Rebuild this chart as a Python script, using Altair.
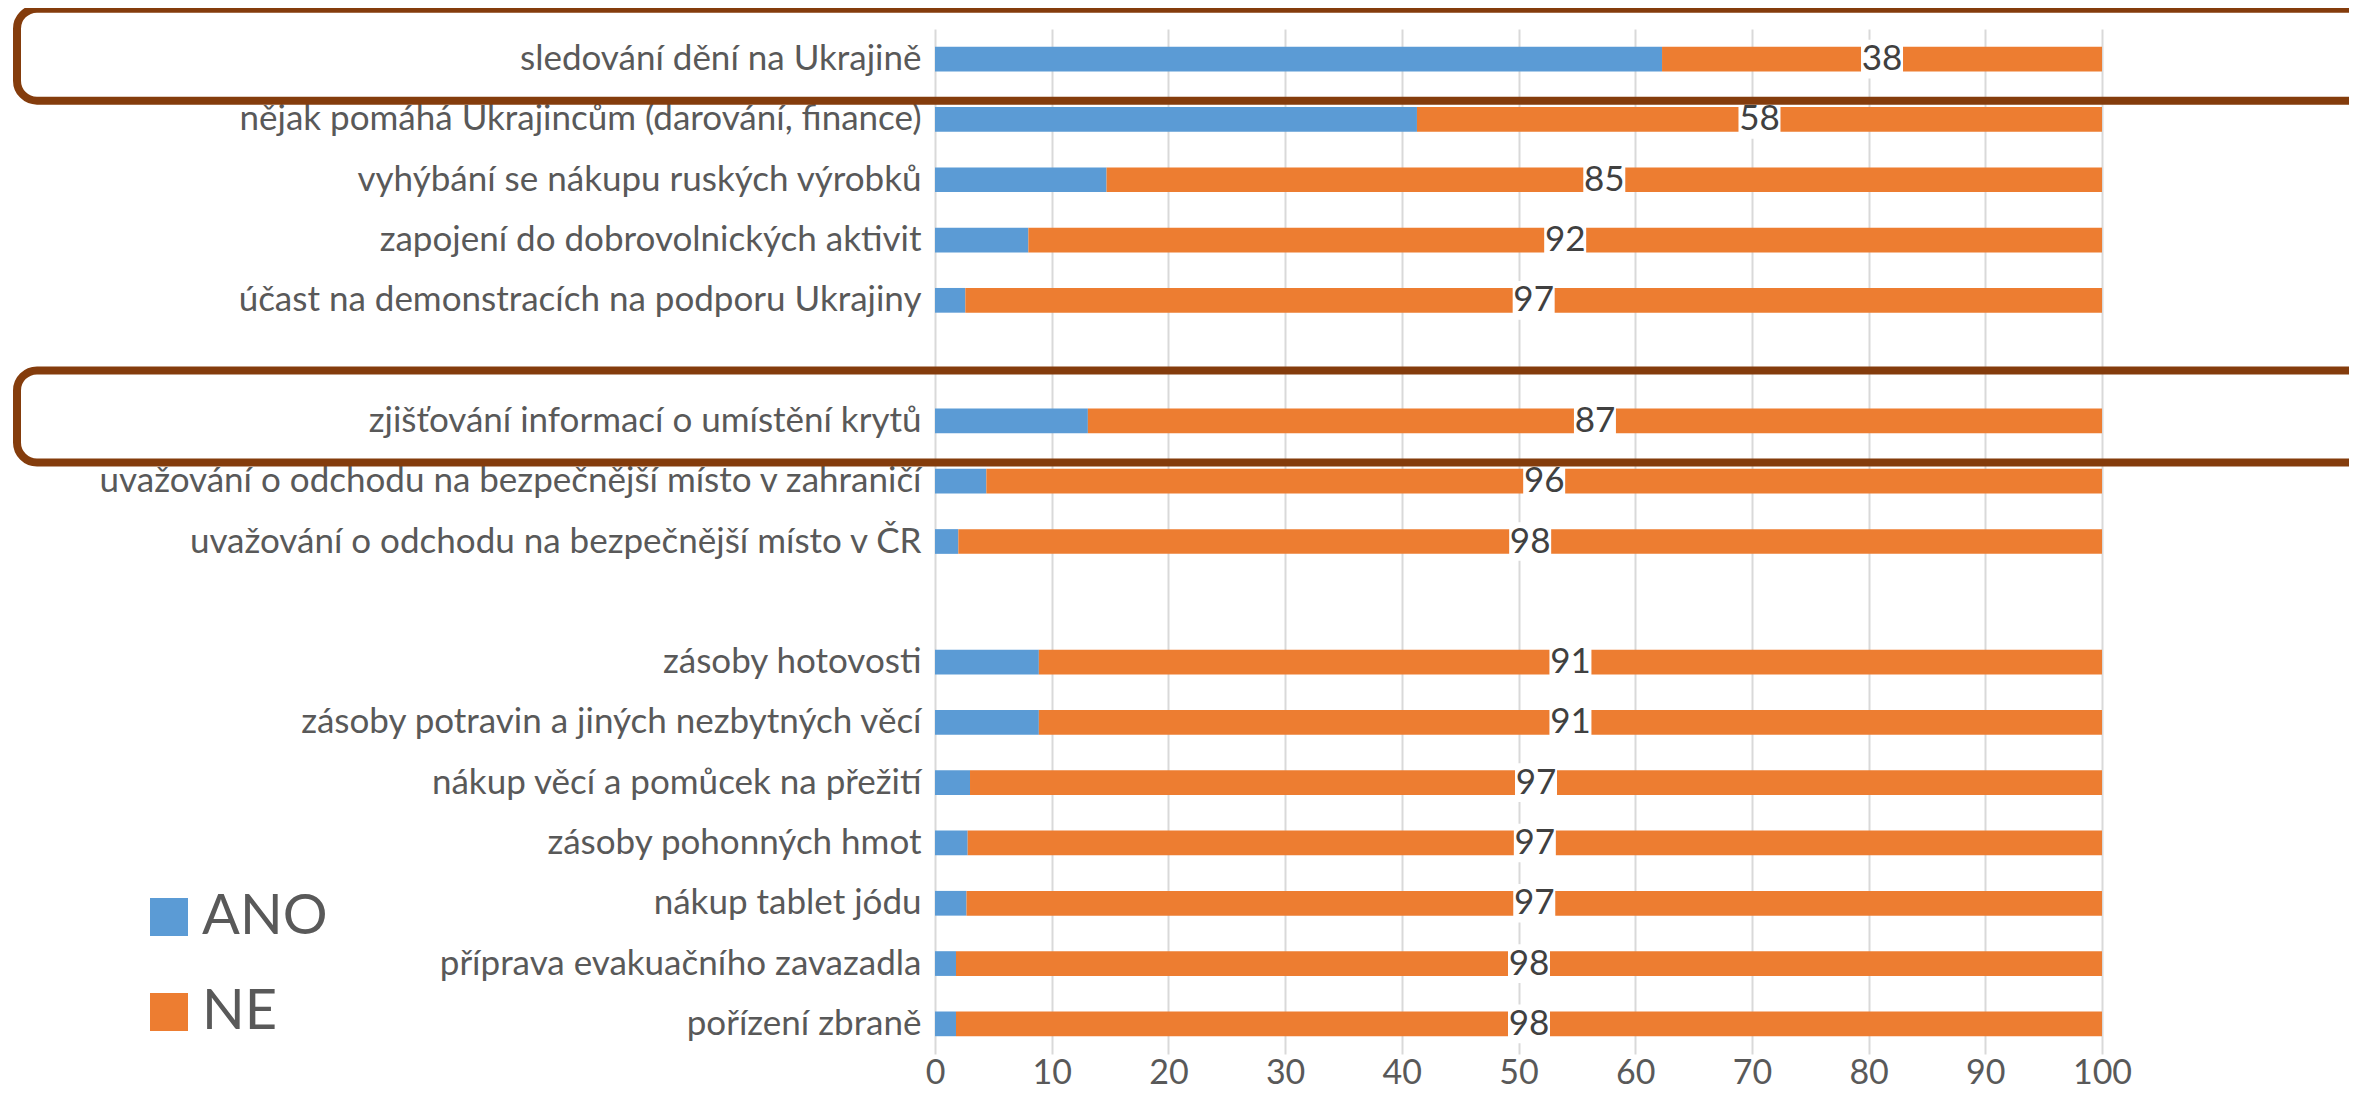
import altair as alt
import pandas as pd

# ---- data ----
categories = [
    "sledování dění na Ukrajině",
    "nějak pomáhá Ukrajincům (darování, finance)",
    "vyhýbání se nákupu ruských výrobků",
    "zapojení do dobrovolnických aktivit",
    "účast na demonstracích na podporu Ukrajiny",
    "zjišťování informací o umístění krytů",
    "uvažování o odchodu na bezpečnější místo v zahraničí",
    "uvažování o odchodu na bezpečnější místo v ČR",
    "zásoby hotovosti",
    "zásoby potravin a jiných nezbytných věcí",
    "nákup věcí a pomůcek na přežití",
    "zásoby pohonných hmot",
    "nákup tablet jódu",
    "příprava evakuačního zavazadla",
    "pořízení zbraně",
]
ano = [62.3, 41.3, 14.7, 8.0, 2.6, 13.1, 4.4, 2.0, 8.9, 8.9, 3.0, 2.8, 2.7, 1.8, 1.8]
ne_label = [38, 58, 85, 92, 97, 87, 96, 98, 91, 91, 97, 97, 97, 98, 98]
series = ["ANO", "NE"]
series_colors = ["#5B9BD5", "#ED7D31"]
highlighted = ["sledování dění na Ukrajině", "zjišťování informací o umístění krytů"]
x_ticks = [0, 10, 20, 30, 40, 50, 60, 70, 80, 90, 100]

# order of rows incl. two empty separator rows
y_domain = categories[:5] + [" "] + categories[5:8] + ["  "] + categories[8:]

wide = pd.DataFrame({
    "kategorie": categories,
    "ANO": ano,
    "NE": [round(100 - a, 1) for a in ano],
    "ne_label": ne_label,
})
frames_df = pd.DataFrame({"kategorie": highlighted})

FONT = "Lato"
GREY = "#595959"

yscale = alt.Scale(domain=y_domain, paddingInner=0.59, paddingOuter=0.295)
yaxis = alt.Axis(title=None, domain=False, ticks=False, tickSize=0, labelPadding=14,
                 labelFontSize=35, labelColor=GREY, labelFont=FONT, labelLimit=0)
xscale = alt.Scale(domain=[0, 100], nice=False)
xaxis = alt.Axis(title=None, values=x_ticks, domain=False, ticks=False, tickSize=0,
                 grid=True, gridColor="#D9D9D9", gridWidth=2, labelFlush=False,
                 labelOverlap=False, labelFontSize=34, labelColor=GREY, labelFont=FONT,
                 labelPadding=2)

base = alt.Chart(wide)

bars = base.transform_fold(series, as_=["odpoved", "podil"]).transform_calculate(
    poradi="datum.odpoved == 'ANO' ? 0 : 1"
).mark_bar().encode(
    y=alt.Y("kategorie:N", scale=yscale, axis=yaxis, sort=y_domain),
    x=alt.X("podil:Q", stack="zero", scale=xscale, axis=xaxis),
    color=alt.Color(
        "odpoved:N",
        scale=alt.Scale(domain=series, range=series_colors),
        legend=alt.Legend(
            title=None, orient="none", legendX=-794, legendY=860, direction="vertical",
            symbolType="square", symbolSize=1444, symbolStrokeWidth=0, symbolOpacity=1,
            labelFontSize=56, labelFont=FONT, labelColor=GREY, labelOffset=5,
            rowPadding=39, padding=0,
        ),
    ),
    order=alt.Order("poradi:Q"),
)

label_bg = base.transform_calculate(mid="datum.ANO + datum.NE / 2").mark_point(
    shape="M-1,-0.92L1,-0.92L1,0.92L-1,0.92Z", size=1764, filled=True,
    fill="white", opacity=1, strokeWidth=0,
).encode(
    y=alt.Y("kategorie:N", scale=yscale, axis=yaxis, sort=y_domain),
    x=alt.X("mid:Q", scale=xscale, axis=xaxis),
)

labels = base.transform_calculate(mid="datum.ANO + datum.NE / 2").mark_text(
    font=FONT, fontSize=35, color="#404040", align="center", baseline="middle",
).encode(
    y=alt.Y("kategorie:N", scale=yscale, axis=yaxis, sort=y_domain),
    x=alt.X("mid:Q", scale=xscale, axis=xaxis),
    text=alt.Text("ne_label:Q"),
)

frames = alt.Chart(frames_df).mark_rect(
    fill="white", fillOpacity=0, stroke="#843C0C", strokeWidth=8,
    cornerRadius=20, height=92, yOffset=-4.5,
).encode(
    y=alt.Y("kategorie:N", scale=yscale, axis=yaxis, sort=y_domain),
    x=alt.value(-918),
    x2=alt.value(1500),
)

chart = alt.layer(bars, label_bg, labels, frames).properties(
    width=1167, height=1025,
    autosize=alt.AutoSizeParams(type="none"),
    padding={"left": 927, "top": 21, "right": 247, "bottom": 42},
    background="white",
).configure_view(stroke=None)

chart.save("out.html", embed_options={"renderer": "svg", "actions": False})
